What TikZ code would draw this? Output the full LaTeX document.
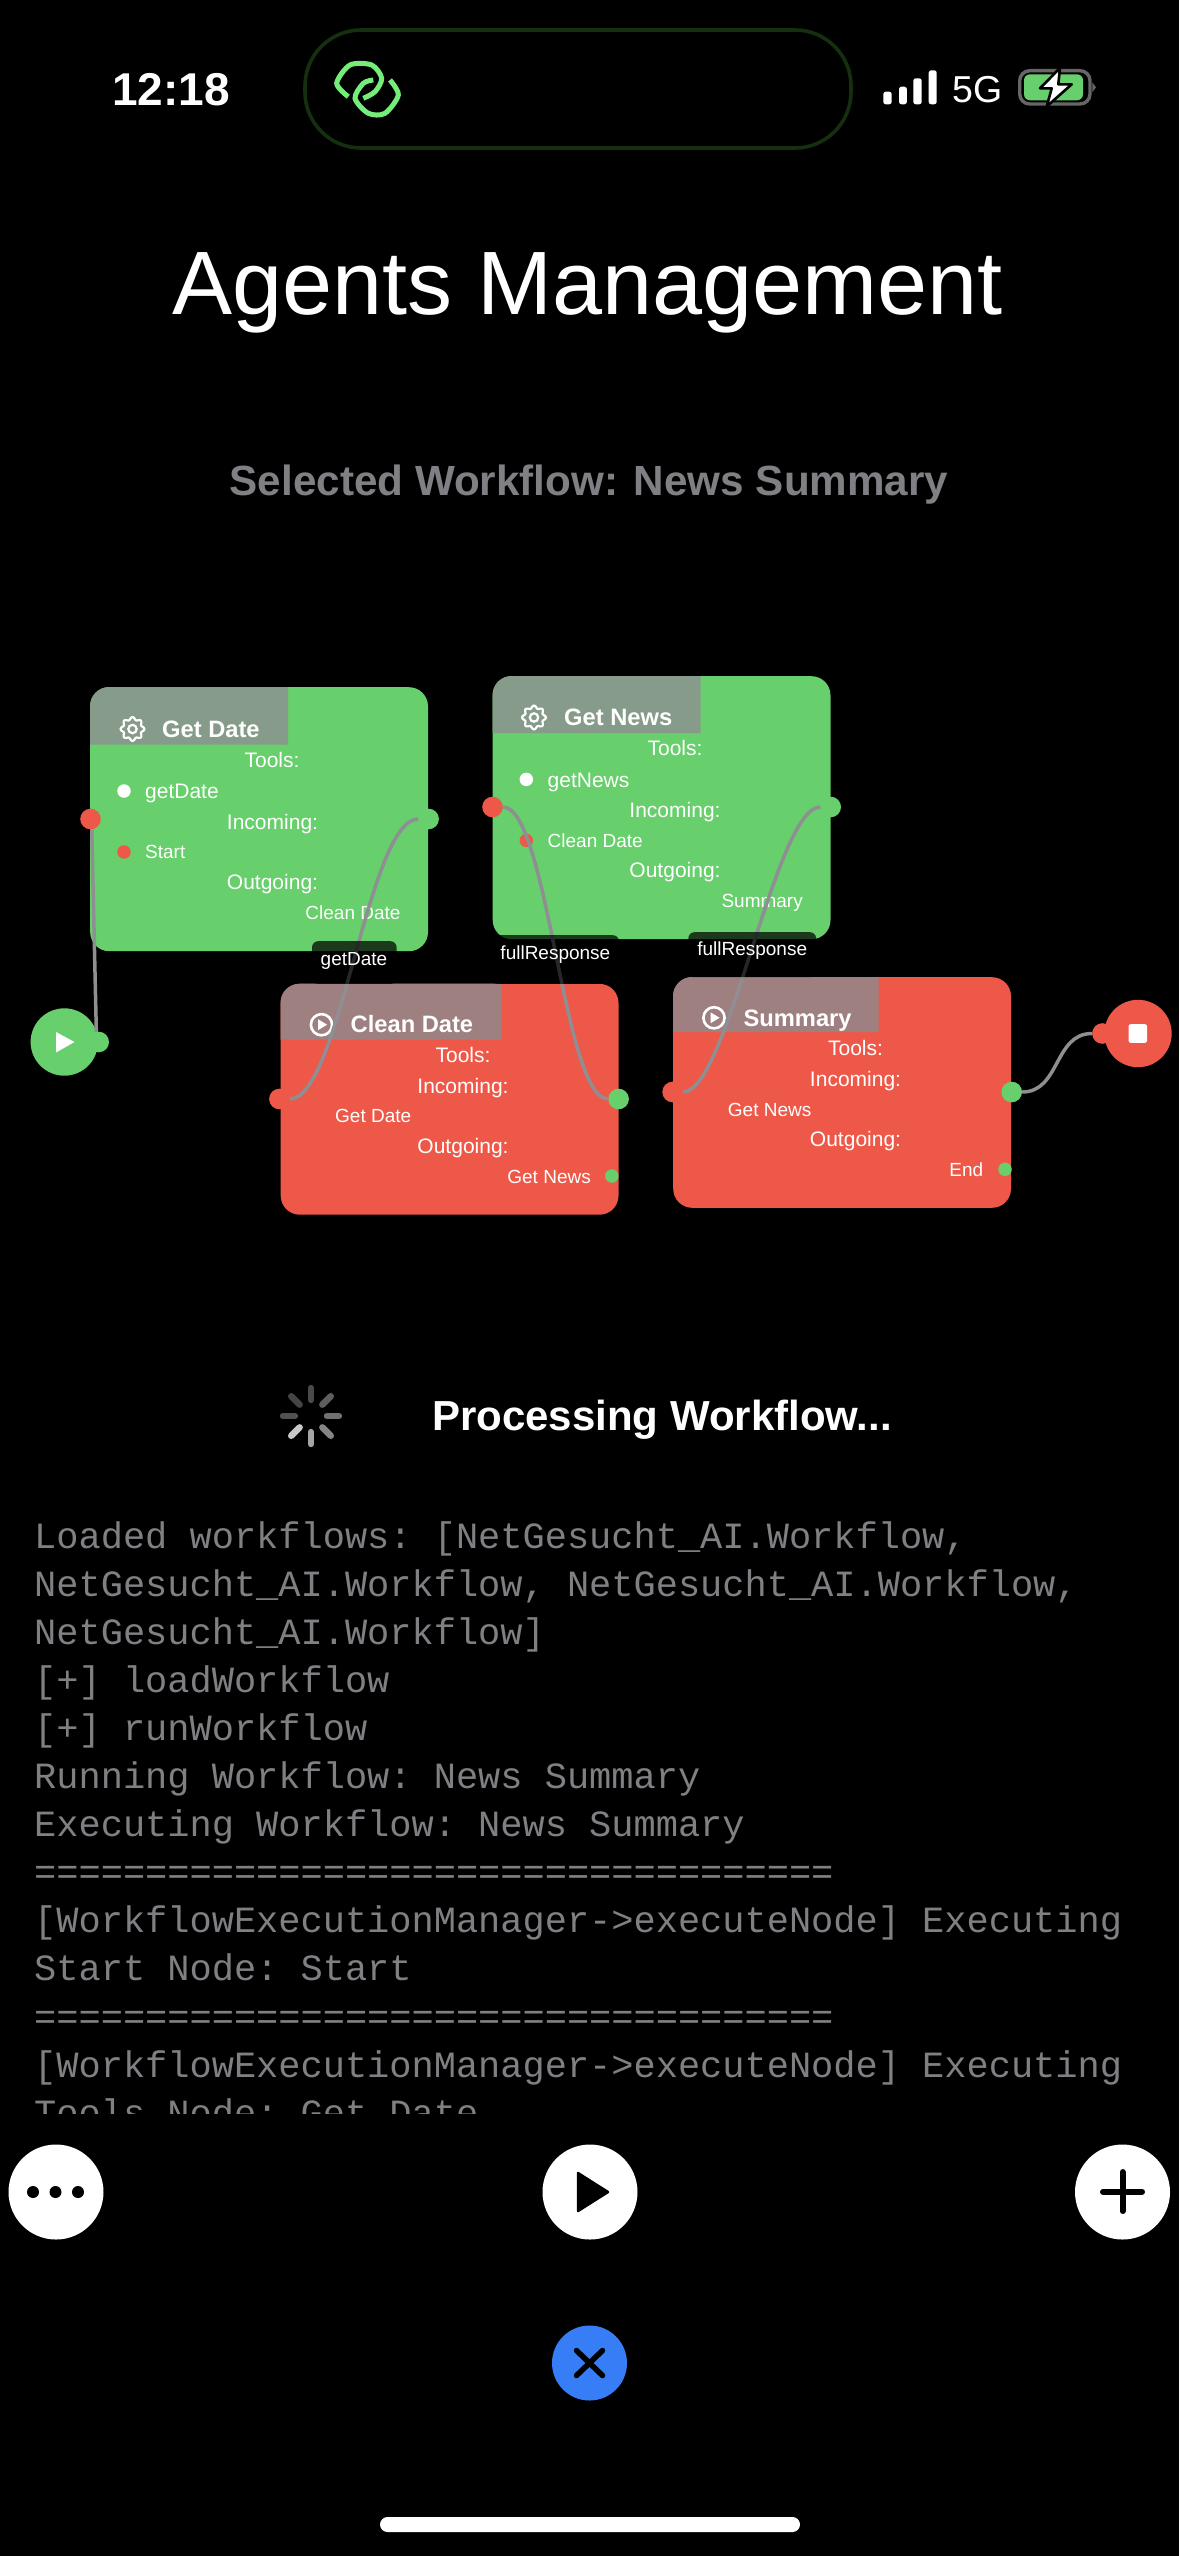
\documentclass[tikz,border=0pt]{standalone}
\usepackage{fontspec}
\setmainfont{Liberation Sans}
\newfontfamily\logfamily{Liberation Mono}
\newcommand{\px}[1]{\fontsize{#1}{#1}\selectfont}
\definecolor{okgreen}{HTML}{67CF6B}
\definecolor{okred}{HTML}{EE5849}
\definecolor{headgreen}{HTML}{879B8A}
\definecolor{headred}{HTML}{9F8081}
\definecolor{wiregrey}{HTML}{8E8E93}
\definecolor{softgrey}{HTML}{808084}
\definecolor{linkgreen}{HTML}{74EE78}
\definecolor{pillgreen}{HTML}{15300E}
\definecolor{cancelblue}{HTML}{377DF6}
\tikzset{
  card/.style={anchor=north west,rounded corners=19pt,inner sep=0pt,minimum width=337.8pt},
  port/.style={circle,inner sep=0pt,minimum size=20.6pt},
  rowdot/.style={circle,inner sep=0pt,minimum size=13.5pt},
  endpoint/.style={circle,inner sep=0pt,minimum size=67.4pt},
  wire/.style={draw=wiregrey,line width=3.5pt},
  headtext/.style={font=\px{23.7}\bfseries,text=white,inner sep=0pt,anchor=base west},
  rowhead/.style={font=\px{21},text=white,inner sep=0pt,anchor=base},
  rowtext/.style={font=\px{19},text=white,inner sep=0pt},
  tab/.style={fill=black,fill opacity=.72,rounded corners=6pt,inner sep=0pt},
  tablabel/.style={font=\px{19},text=white,inner sep=0pt,anchor=base},
  roundbtn/.style={circle,fill=white,inner sep=0pt,minimum size=95pt},
  iconline/.style={draw=white,line width=2.2pt},
  linkline/.style={draw=linkgreen,line width=5pt}
}
% small drawn symbols
\newcommand{\gearicon}[1]{%
  \draw[iconline,shift={(#1)}] plot[variable=\t,domain=0:355,samples=72,smooth cycle] (\t:{10.6+1.3*cos(8*\t)});
  \draw[iconline,shift={(#1)}] (0,0) circle (4.2);
}
\newcommand{\playicon}[1]{%
  \draw[iconline,line width=2.6pt,shift={(#1)}] (0,0) circle (10.6);
  \fill[white,shift={(#1)}] (-3.4,-5.4) -- (5.6,0) -- (-3.4,5.4) -- cycle;
}
\begin{document}
\begin{tikzpicture}[x=1pt,y=-1pt]
  \useasboundingbox (0,0) rectangle (1179,2556);
  \fill[black] (0,0) rectangle (1179,2556);

  % status bar
  \node[font=\px{46}\bfseries,text=white,inner sep=0pt,anchor=base west] (clock) at (112,105) {12:18};
  \draw[draw=pillgreen,line width=3.6pt,rounded corners=56pt] (305,30) rectangle (851,148);
  \draw[linkline] plot[smooth] coordinates {(348.3,96.7) (336.7,83.3) (350,65) (371.7,65) (381.7,78.3) (375,91.7) (363.3,98.3)};
  \draw[linkline] plot[smooth] coordinates {(390,80) (398.3,95) (385,113.3) (368.3,113.3) (355,98.3) (363.3,83.3) (373.3,80)};
  \fill[white,rounded corners=2.5pt] (883.3,91.7) rectangle (891.7,104.3);
  \fill[white,rounded corners=2.5pt] (899,86.7) rectangle (906.9,104.3);
  \fill[white,rounded corners=2.5pt] (913.3,78.3) rectangle (921.7,104.3);
  \fill[white,rounded corners=2.5pt] (928.7,70.3) rectangle (936.7,104.3);
  \node[font=\px{37.5},text=white,inner sep=0pt,anchor=base west] (network) at (952,102.3) {5G};
  \draw[draw=black!60!white,line width=3.4pt,rounded corners=10pt] (1019.7,70.7) rectangle (1090,104);
  \fill[okgreen,rounded corners=6pt] (1024,74.3) rectangle (1083,100.3);
  \fill[black!60!white] (1092.3,82.3) -- (1096,87.3) -- (1092.3,92.3) -- cycle;
  \filldraw[fill=white,draw=black,line width=2.6pt,line join=round] (1060,68) -- (1040,88.3) -- (1051.7,88.3) -- (1046.7,106.5) -- (1071.7,84.3) -- (1058.3,84.3) -- cycle;

  % heading
  \node[font=\px{90},text=white,inner sep=0pt,anchor=base] (title) at (587.5,314) {Agents Management};
  \node[font=\px{42.2}\bfseries,text=softgrey,inner sep=0pt,anchor=base] (selected) at (589,495) {Selected Workflow: News Summary};

  % cards
  \node[card,fill=okgreen,minimum height=264pt] (getDate) at (90,687) {};
  \fill[headgreen] (90,744.5) [rounded corners=19pt] -- (90,687) [sharp corners] -- (288,687) -- (288,744.5) -- cycle;
  \gearicon{132.5,729}
  \node[headtext] (getDateName) at (162,737.3) {Get Date};
  \node[rowhead] (getDateTools) at (272,767) {Tools:};
  \node[rowdot,fill=white] (getDateToolDot) at (124,791) {};
  \node[rowtext,font=\px{21},anchor=base west] (getDateTool) at (145,798.5) {getDate};
  \node[rowhead] (getDateIncoming) at (272.5,829) {Incoming:};
  \node[rowdot,fill=okred] (getDateFromDot) at (124,852) {};
  \node[rowtext,anchor=base west] (getDateFrom) at (145,858.6) {Start};
  \node[rowhead] (getDateOutgoing) at (272.5,889) {Outgoing:};
  \node[rowtext,anchor=base east] (getDateTo) at (400.7,919) {Clean Date};

  \node[card,fill=okgreen,minimum height=263pt] (getNews) at (492.5,676) {};
  \fill[headgreen] (492.5,733) [rounded corners=19pt] -- (492.5,676) [sharp corners] -- (700.5,676) -- (700.5,733) -- cycle;
  \gearicon{534,717.5}
  \node[headtext] (getNewsName) at (564,725.8) {Get News};
  \node[rowhead] (getNewsTools) at (675,755.5) {Tools:};
  \node[rowdot,fill=white] (getNewsToolDot) at (526.3,779.4) {};
  \node[rowtext,font=\px{21},anchor=base west] (getNewsTool) at (547.5,787) {getNews};
  \node[rowhead] (getNewsIncoming) at (675,817.5) {Incoming:};
  \node[rowdot,fill=okred] (getNewsFromDot) at (526.3,840.4) {};
  \node[rowtext,anchor=base west] (getNewsFrom) at (547.5,847.1) {Clean Date};
  \node[rowhead] (getNewsOutgoing) at (675,877.5) {Outgoing:};
  \node[rowtext,anchor=base east] (getNewsTo) at (803,907.5) {Summary};

  \node[card,fill=okred,minimum height=230.8pt] (cleanDate) at (280.5,983.7) {};
  \fill[headred] (280.5,1039.6) [rounded corners=19pt] -- (280.5,983.7) [sharp corners] -- (501.3,983.7) -- (501.3,1039.6) -- cycle;
  \playicon{321.5,1024.7}
  \node[headtext] (cleanDateName) at (350.5,1032.7) {Clean Date};
  \node[rowhead] (cleanDateTools) at (463,1062) {Tools:};
  \node[rowhead] (cleanDateIncoming) at (463,1093) {Incoming:};
  \node[rowtext,anchor=base west] (cleanDateFrom) at (335,1122.6) {Get Date};
  \node[rowhead] (cleanDateOutgoing) at (463,1153) {Outgoing:};
  \node[rowtext,anchor=base east] (cleanDateTo) at (591,1183) {Get News};
  \node[rowdot,fill=okgreen] (cleanDateToDot) at (611.8,1176) {};

  \node[card,fill=okred,minimum height=230.6pt] (summary) at (673,977) {};
  \fill[headred] (673,1032) [rounded corners=19pt] -- (673,977) [sharp corners] -- (878.5,977) -- (878.5,1032) -- cycle;
  \playicon{714,1017.8}
  \node[headtext] (summaryName) at (743.4,1026) {Summary};
  \node[rowhead] (summaryTools) at (855.5,1055.3) {Tools:};
  \node[rowhead] (summaryIncoming) at (855.5,1086.3) {Incoming:};
  \node[rowtext,anchor=base west] (summaryFrom) at (727.7,1116) {Get News};
  \node[rowhead] (summaryOutgoing) at (855.5,1146.3) {Outgoing:};
  \node[rowtext,anchor=base east] (summaryTo) at (983.4,1176.3) {End};
  \node[rowdot,fill=okgreen] (summaryToDot) at (1005,1169.3) {};

  % start and end
  \node[endpoint,fill=okgreen] (startNode) at (64.3,1042) {};
  \fill[white] (56,1032) -- (74.5,1042) -- (56,1052.5) -- cycle;
  \node[endpoint,fill=okred] (endNode) at (1138,1033.5) {};
  \fill[white,rounded corners=2pt] (1128.6,1024.2) rectangle (1147,1042.8);

  % ports
  \node[port,fill=okgreen] (startOut) at (98.7,1042) {};
  \node[port,fill=okred] (getDateIn) at (90.5,819) {};
  \node[port,fill=okgreen] (getDateOut) at (428.6,819) {};
  \node[port,fill=okred] (getNewsIn) at (492.5,807) {};
  \node[port,fill=okgreen] (getNewsOut) at (830.7,807) {};
  \node[port,fill=okred] (cleanDateIn) at (279.4,1099) {};
  \node[port,fill=okgreen] (cleanDateOut) at (618.6,1099) {};
  \node[port,fill=okred] (summaryIn) at (672.6,1092) {};
  \node[port,fill=okgreen] (summaryOut) at (1011.7,1092) {};
  \node[port,fill=okred] (endIn) at (1102.4,1033.5) {};

  % wires
  \draw[wire] (startOut.103) -- (getDateIn.-83);
  \draw[wire] (getDateOut.west) .. controls +(-50,0) and +(50,0) .. (cleanDateIn.east);
  \draw[wire] (getNewsIn.east) .. controls +(45,0) and +(-45,0) .. (cleanDateOut.west);
  \draw[wire] (getNewsOut.west) .. controls +(-45,0) and +(45,0) .. (summaryIn.east);
  \draw[wire] (summaryOut.east) .. controls +(38,0) and +(-38,0) .. (endIn.west);

  % edge labels
  \node[tab,minimum width=84.5pt,minimum height=42.7pt,anchor=north] (getDateTab) at (354.3,941) {};
  \node[tablabel] (getDateEdge) at (354,965.7) {getDate};
  \node[tab,minimum width=128pt,minimum height=48.7pt,anchor=north] (cleanNewsTab) at (555,935) {};
  \node[tablabel] (cleanNewsEdge) at (555.4,959.2) {fullResponse};
  \node[tab,minimum width=127.7pt,minimum height=45pt,anchor=north] (summaryTab) at (752.2,932) {};
  \node[tablabel] (summaryEdge) at (752.2,955.4) {fullResponse};

  % progress line
  \foreach \ang/\tone in {270/4A,315/5E,0/70,45/85,90/A5,135/C8,180/50,225/44} {
    \definecolor{spoke}{HTML}{\tone\tone\tone}
    \draw[spoke,line width=6.4pt,line cap=round,shift={(311,1416)}] (\ang:16) -- (\ang:28);
  }
  \node[font=\px{42}\bfseries,text=white,inner sep=0pt,anchor=base west] (progress) at (432,1430) {Processing Workflow...};

  % log output
  \begin{scope}
    \clip (0,1500) rectangle (1179,2113);
    \node[font=\logfamily\frenchspacing\fontsize{37}{48.1}\selectfont,text=softgrey,inner sep=0pt,align=left,anchor=north west] (logOutput) at (34,1521) {%
      Loaded workflows: [NetGesucht\_AI.Workflow,\\
      NetGesucht\_AI.Workflow, NetGesucht\_AI.Workflow,\\
      NetGesucht\_AI.Workflow]\\
      {[+]} loadWorkflow\\
      {[+]} runWorkflow\\
      Running Workflow: News Summary\\
      Executing Workflow: News Summary\\
      ====================================\\
      {[WorkflowExecutionManager->executeNode]} Executing\\
      Start Node: Start\\
      ====================================\\
      {[WorkflowExecutionManager->executeNode]} Executing\\
      Tools Node: Get Date};
  \end{scope}

  % buttons
  \node[roundbtn] (moreBtn) at (56,2192) {};
  \fill[black] (33,2192) circle (6) (55.5,2192) circle (6) (78,2192) circle (6);
  \node[roundbtn] (runBtn) at (590,2192) {};
  \filldraw[black,line width=2.5pt,line join=round] (578,2173) -- (608,2192) -- (578,2211) -- cycle;
  \node[roundbtn] (addBtn) at (1122.5,2192) {};
  \draw[black,line width=6pt,line cap=round] (1103,2191.7) -- (1142,2191.7) (1122.5,2172) -- (1122.5,2211);
  \node[circle,fill=cancelblue,inner sep=0pt,minimum size=75pt] (cancelBtn) at (589.5,2363) {};
  \draw[black,line width=5.5pt,line cap=round] (576.5,2350.5) -- (602.5,2375.5) (602.5,2350.5) -- (576.5,2375.5);
  \fill[white,rounded corners=7.5pt] (380,2517) rectangle (800,2532);
\end{tikzpicture}
\end{document}
